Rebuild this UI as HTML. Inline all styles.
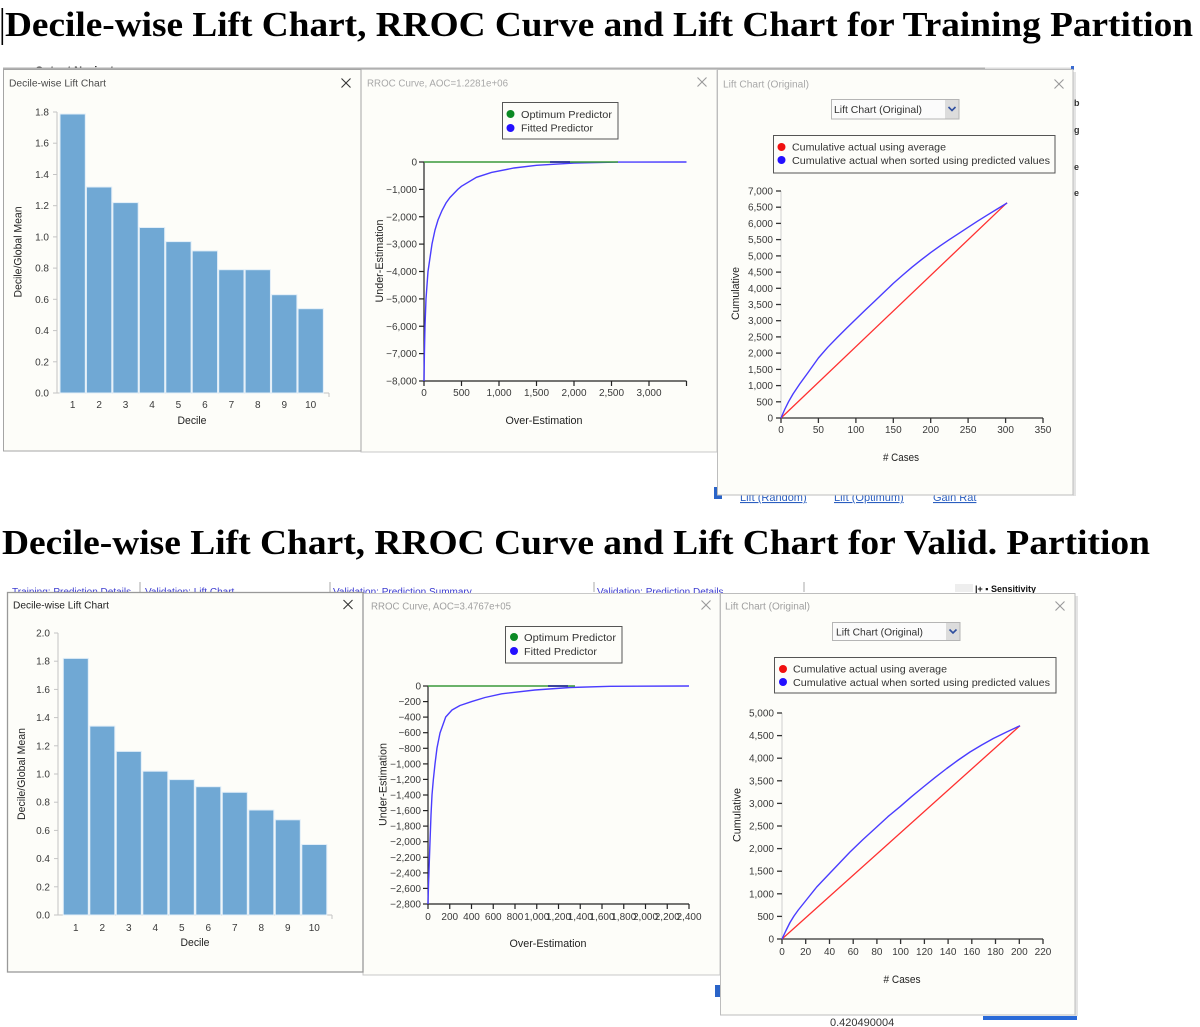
<!DOCTYPE html>
<html>
<head>
<meta charset="utf-8">
<style>
html,body{margin:0;padding:0;background:#fff;}
body{width:1200px;height:1027px;overflow:hidden;position:relative;}
svg{position:absolute;left:0;top:0;}
.ui{font-family:"Liberation Sans","DejaVu Sans",sans-serif;}
.tk{font-family:"Liberation Sans","DejaVu Sans",sans-serif;font-size:10px;fill:#3a3a3a;}
.ax{font-family:"Liberation Sans","DejaVu Sans",sans-serif;font-size:11px;fill:#222;}
.lg{font-family:"Liberation Sans","DejaVu Sans",sans-serif;font-size:10.5px;fill:#333;}
.pt{font-family:"Liberation Sans","DejaVu Sans",sans-serif;font-size:10px;}
.lnk{font-family:"Liberation Sans","DejaVu Sans",sans-serif;font-size:10px;fill:#3b3bd0;}
</style>
</head>
<body>
<svg width="1200" height="1027" viewBox="0 0 1200 1027" xmlns="http://www.w3.org/2000/svg">
<rect x="0" y="0" width="1200" height="1027" fill="#ffffff"/>

<!-- ===== Title 1 ===== -->
<rect x="1.5" y="8" width="1.6" height="37" fill="#000"/>
<text x="5" y="36" font-family="Liberation Serif, serif" font-weight="bold" font-size="35" textLength="1188" lengthAdjust="spacingAndGlyphs" fill="#000">Decile-wise Lift Chart, RROC Curve and Lift Chart for Training Partition</text>

<!-- background bits row 1 -->
<text x="35" y="74" class="ui" font-size="11" font-weight="bold" fill="#333">Output Navigator</text>
<rect x="714" y="487" width="8" height="12" fill="#2a64c8"/>
<text x="740" y="501" class="ui" font-size="11" fill="#2a5ec0" text-decoration="underline">Lift (Random)</text>
<text x="834" y="501" class="ui" font-size="11" fill="#2a5ec0" text-decoration="underline">Lift (Optimum)</text>
<text x="933" y="501" class="ui" font-size="11" fill="#2a5ec0" text-decoration="underline">Gain Rat</text>
<rect x="3" y="67.5" width="982" height="2.5" fill="#b0b0b0"/>
<rect x="985" y="67.5" width="88" height="2" fill="#dcdcdc"/>
<rect x="1071" y="66" width="3" height="4" fill="#3a6ad0"/>

<!-- ===== Row 1 Panel 2 (RROC) ===== -->
<rect x="361" y="69.5" width="356" height="382.5" fill="#fdfdf9" stroke="#c8c8c8" stroke-width="1"/>
<text x="367" y="86.5" class="pt" fill="#a8a8a8" textLength="141" lengthAdjust="spacingAndGlyphs">RROC Curve, AOC=1.2281e+06</text>
<g stroke="#999" stroke-width="1.1"><line x1="697.5" y1="77.5" x2="706.5" y2="86.5"/><line x1="706.5" y1="77.5" x2="697.5" y2="86.5"/></g>
<rect x="502.5" y="102.5" width="115.5" height="36.5" fill="#fdfdf9" stroke="#555" stroke-width="1"/>
<circle cx="510.5" cy="114" r="4" fill="#0b8a24"/>
<circle cx="510.5" cy="128" r="4" fill="#2410ff"/>
<text x="521" y="118" class="lg" textLength="91" lengthAdjust="spacingAndGlyphs">Optimum Predictor</text>
<text x="521" y="131.5" class="lg" textLength="72" lengthAdjust="spacingAndGlyphs">Fitted Predictor</text>
<g stroke="#222" stroke-width="1.2">
<line x1="424" y1="162" x2="424" y2="381.5"/>
<line x1="423.5" y1="381" x2="686.5" y2="381"/>
<line x1="419" y1="162" x2="424" y2="162"/><line x1="419" y1="189.4" x2="424" y2="189.4"/><line x1="419" y1="216.75" x2="424" y2="216.75"/><line x1="419" y1="244.1" x2="424" y2="244.1"/><line x1="419" y1="271.5" x2="424" y2="271.5"/><line x1="419" y1="298.9" x2="424" y2="298.9"/><line x1="419" y1="326.25" x2="424" y2="326.25"/><line x1="419" y1="353.6" x2="424" y2="353.6"/><line x1="419" y1="381" x2="424" y2="381"/>
<line x1="424" y1="381" x2="424" y2="386"/><line x1="461.5" y1="381" x2="461.5" y2="386"/><line x1="499" y1="381" x2="499" y2="386"/><line x1="536.5" y1="381" x2="536.5" y2="386"/><line x1="574" y1="381" x2="574" y2="386"/><line x1="611.5" y1="381" x2="611.5" y2="386"/><line x1="649" y1="381" x2="649" y2="386"/><line x1="686.5" y1="381" x2="686.5" y2="386"/>
</g>
<g class="tk" text-anchor="end">
<text x="417" y="165.5">0</text><text x="417" y="192.9">−1,000</text><text x="417" y="220.25">−2,000</text><text x="417" y="247.6">−3,000</text><text x="417" y="275">−4,000</text><text x="417" y="302.4">−5,000</text><text x="417" y="329.75">−6,000</text><text x="417" y="357.1">−7,000</text><text x="417" y="384.5">−8,000</text>
</g>
<g class="tk" text-anchor="middle">
<text x="424" y="396">0</text><text x="461.5" y="396">500</text><text x="499" y="396">1,000</text><text x="536.5" y="396">1,500</text><text x="574" y="396">2,000</text><text x="611.5" y="396">2,500</text><text x="649" y="396">3,000</text>
</g>
<text x="544" y="424" class="ax" text-anchor="middle" textLength="77" lengthAdjust="spacingAndGlyphs">Over-Estimation</text>
<text transform="translate(383,261) rotate(-90)" class="ax" text-anchor="middle" textLength="83" lengthAdjust="spacingAndGlyphs">Under-Estimation</text>
<polyline fill="none" stroke="#4a3cff" stroke-width="1.4" points="424,381 424.4,353.6 425,326 426,299 428,271.5 432,244 435,230 438,220 442,210.5 446,203 450,197.5 457.8,189.4 461.4,186.3 476.5,177.3 491.5,172.4 514,168 536.5,165.3 574,163.1 619,162.1 686.5,162"/>
<line x1="424" y1="162" x2="618" y2="162" stroke="#3a9a3a" stroke-width="1.4"/>
<line x1="550" y1="162" x2="570" y2="162" stroke="#1a1a9a" stroke-width="1.6"/>

<!-- ===== Row 1 Panel 1 (Decile) ===== -->
<rect x="3.5" y="69.5" width="357.5" height="381.5" fill="#fdfdf9" stroke="#a5a5a5" stroke-width="1"/>
<text x="9" y="86.5" class="pt" fill="#4a4a4a" textLength="97" lengthAdjust="spacingAndGlyphs">Decile-wise Lift Chart</text>
<g stroke="#333" stroke-width="1.1"><line x1="341.5" y1="78.5" x2="350.5" y2="87.5"/><line x1="350.5" y1="78.5" x2="341.5" y2="87.5"/></g>
<g stroke="#c4c4c4" stroke-width="1">
<line x1="57" y1="112" x2="57" y2="393"/>
<line x1="57" y1="393" x2="329" y2="393"/>
<line x1="329" y1="393" x2="329" y2="397"/>
<line x1="53" y1="112" x2="57" y2="112"/><line x1="53" y1="143.2" x2="57" y2="143.2"/><line x1="53" y1="174.5" x2="57" y2="174.5"/><line x1="53" y1="205.7" x2="57" y2="205.7"/><line x1="53" y1="236.9" x2="57" y2="236.9"/><line x1="53" y1="268.1" x2="57" y2="268.1"/><line x1="53" y1="299.3" x2="57" y2="299.3"/><line x1="53" y1="330.6" x2="57" y2="330.6"/><line x1="53" y1="361.8" x2="57" y2="361.8"/><line x1="53" y1="393" x2="57" y2="393"/>
</g>
<g class="tk" text-anchor="end">
<text x="49" y="396.5">0.0</text><text x="49" y="365.3">0.2</text><text x="49" y="334.1">0.4</text><text x="49" y="302.8">0.6</text><text x="49" y="271.6">0.8</text><text x="49" y="240.4">1.0</text><text x="49" y="209.2">1.2</text><text x="49" y="178">1.4</text><text x="49" y="146.7">1.6</text><text x="49" y="115.5">1.8</text>
</g>
<g fill="#70a8d4" stroke="#e2eef8" stroke-width="1">
<rect x="60" y="114" width="25.3" height="279"/>
<rect x="86.45" y="187" width="25.3" height="206"/>
<rect x="112.9" y="202.6" width="25.3" height="190.4"/>
<rect x="139.35" y="227.5" width="25.3" height="165.5"/>
<rect x="165.8" y="241.6" width="25.3" height="151.4"/>
<rect x="192.25" y="250.9" width="25.3" height="142.1"/>
<rect x="218.7" y="269.7" width="25.3" height="123.3"/>
<rect x="245.15" y="269.7" width="25.3" height="123.3"/>
<rect x="271.6" y="294.7" width="25.3" height="98.3"/>
<rect x="298.05" y="308.7" width="25.3" height="84.3"/>
</g>
<g class="tk" text-anchor="middle">
<text x="72.65" y="408">1</text><text x="99.1" y="408">2</text><text x="125.55" y="408">3</text><text x="152" y="408">4</text><text x="178.45" y="408">5</text><text x="204.9" y="408">6</text><text x="231.35" y="408">7</text><text x="257.8" y="408">8</text><text x="284.25" y="408">9</text><text x="310.7" y="408">10</text>
</g>
<text x="192" y="424" class="ax" text-anchor="middle" textLength="29" lengthAdjust="spacingAndGlyphs">Decile</text>
<text transform="translate(21.5,252) rotate(-90)" class="ax" text-anchor="middle" textLength="91" lengthAdjust="spacingAndGlyphs">Decile/Global Mean</text>

<!-- ===== Row 1 Panel 3 (Lift) ===== -->
<rect x="1073" y="72" width="3" height="424" fill="#e4e4e4"/>
<text x="1074" y="106" class="ui" font-size="9" font-weight="bold" fill="#333">b</text>
<text x="1074" y="133" class="ui" font-size="9" font-weight="bold" fill="#333">g</text>
<text x="1074" y="170" class="ui" font-size="9" font-weight="bold" fill="#333">e</text>
<text x="1074" y="196" class="ui" font-size="9" font-weight="bold" fill="#333">e</text>
<rect x="717.5" y="69.5" width="355.5" height="425.5" fill="#fdfdf9" stroke="#bdbdbd" stroke-width="1"/>
<text x="723" y="87.5" class="pt" fill="#a8a8a8" textLength="86" lengthAdjust="spacingAndGlyphs">Lift Chart (Original)</text>
<g stroke="#999" stroke-width="1.1"><line x1="1054.5" y1="79.5" x2="1063.5" y2="88.5"/><line x1="1063.5" y1="79.5" x2="1054.5" y2="88.5"/></g>
<rect x="831.5" y="99.5" width="127.5" height="19.5" fill="#fbfbfb" stroke="#b5b5b5" stroke-width="1"/>
<rect x="945" y="100" width="13.5" height="18.5" fill="#dcdcdc"/>
<polyline points="948.5,107 952,110.5 955.5,107" fill="none" stroke="#2f4f9f" stroke-width="1.6"/>
<text x="834" y="113" class="lg" fill="#222" textLength="88" lengthAdjust="spacingAndGlyphs">Lift Chart (Original)</text>
<rect x="773.5" y="135.5" width="281.5" height="37.5" fill="#fdfdf9" stroke="#555" stroke-width="1"/>
<circle cx="781.5" cy="147" r="4" fill="#f01010"/>
<circle cx="781.5" cy="160" r="4" fill="#2410ff"/>
<text x="792" y="150.5" class="lg" textLength="154" lengthAdjust="spacingAndGlyphs">Cumulative actual using average</text>
<text x="792" y="164" class="lg" textLength="258" lengthAdjust="spacingAndGlyphs">Cumulative actual when sorted using predicted values</text>
<line x1="781" y1="191" x2="781" y2="418" stroke="#cfcfcf" stroke-width="1"/>
<g stroke="#333" stroke-width="1.3">
<line x1="780.5" y1="418" x2="1043" y2="418"/>
<line x1="776" y1="418" x2="781" y2="418"/><line x1="776" y1="401.8" x2="781" y2="401.8"/><line x1="776" y1="385.6" x2="781" y2="385.6"/><line x1="776" y1="369.4" x2="781" y2="369.4"/><line x1="776" y1="353.1" x2="781" y2="353.1"/><line x1="776" y1="336.9" x2="781" y2="336.9"/><line x1="776" y1="320.7" x2="781" y2="320.7"/><line x1="776" y1="304.5" x2="781" y2="304.5"/><line x1="776" y1="288.3" x2="781" y2="288.3"/><line x1="776" y1="272.1" x2="781" y2="272.1"/><line x1="776" y1="255.9" x2="781" y2="255.9"/><line x1="776" y1="239.6" x2="781" y2="239.6"/><line x1="776" y1="223.4" x2="781" y2="223.4"/><line x1="776" y1="207.2" x2="781" y2="207.2"/><line x1="776" y1="191" x2="781" y2="191"/>
<line x1="781" y1="418" x2="781" y2="423"/><line x1="818.4" y1="418" x2="818.4" y2="423"/><line x1="855.9" y1="418" x2="855.9" y2="423"/><line x1="893.3" y1="418" x2="893.3" y2="423"/><line x1="930.7" y1="418" x2="930.7" y2="423"/><line x1="968.1" y1="418" x2="968.1" y2="423"/><line x1="1005.6" y1="418" x2="1005.6" y2="423"/><line x1="1043" y1="418" x2="1043" y2="423"/>
</g>
<g class="tk" text-anchor="end">
<text x="773" y="421.5">0</text><text x="773" y="405.3">500</text><text x="773" y="389.1">1,000</text><text x="773" y="372.9">1,500</text><text x="773" y="356.6">2,000</text><text x="773" y="340.4">2,500</text><text x="773" y="324.2">3,000</text><text x="773" y="308">3,500</text><text x="773" y="291.8">4,000</text><text x="773" y="275.6">4,500</text><text x="773" y="259.4">5,000</text><text x="773" y="243.1">5,500</text><text x="773" y="226.9">6,000</text><text x="773" y="210.7">6,500</text><text x="773" y="194.5">7,000</text>
</g>
<g class="tk" text-anchor="middle">
<text x="781" y="433">0</text><text x="818.4" y="433">50</text><text x="855.9" y="433">100</text><text x="893.3" y="433">150</text><text x="930.7" y="433">200</text><text x="968.1" y="433">250</text><text x="1005.6" y="433">300</text><text x="1043" y="433">350</text>
</g>
<text x="901" y="461" class="ax" text-anchor="middle" textLength="36" lengthAdjust="spacingAndGlyphs"># Cases</text>
<text transform="translate(739,293.5) rotate(-90)" class="ax" text-anchor="middle" textLength="53" lengthAdjust="spacingAndGlyphs">Cumulative</text>
<line x1="781" y1="418" x2="1007" y2="202.7" stroke="#ff3030" stroke-width="1.3"/>
<polyline fill="none" stroke="#4a3cff" stroke-width="1.4" stroke-linejoin="round" points="781,418 784.7,409.5 788.5,401.8 793,394 799.7,384 808,372.6 818.4,358 827.7,347.3 837.1,337.6 846.5,328.2 855.9,319.1 865.2,310.1 874.6,301.3 884,292.3 893.3,283.4 902.7,275.1 912,267.2 921.4,259.7 930.7,252.6 940,245.9 949.4,239.6 958.8,233.4 968.1,227.3 977.5,221.2 986.9,215.3 997,209.1 1007.1,203"/>

<!-- ===== Title 2 ===== -->
<text x="2" y="554" font-family="Liberation Serif, serif" font-weight="bold" font-size="35" textLength="1148" lengthAdjust="spacingAndGlyphs" fill="#000">Decile-wise Lift Chart, RROC Curve and Lift Chart for Valid. Partition</text>

<!-- background bits row 2 -->
<text x="12" y="595" class="lnk">Training: Prediction Details</text>
<line x1="140" y1="582" x2="140" y2="592" stroke="#aaa"/>
<text x="145" y="595" class="lnk">Validation: Lift Chart</text>
<line x1="330" y1="582" x2="330" y2="592" stroke="#aaa"/>
<text x="333" y="595" class="lnk">Validation: Prediction Summary</text>
<line x1="594" y1="582" x2="594" y2="592" stroke="#aaa"/>
<text x="597" y="595" class="lnk">Validation: Prediction Details</text>
<line x1="804" y1="582" x2="804" y2="592" stroke="#aaa"/>
<rect x="955" y="584" width="18" height="8" fill="#eee"/>
<text x="975" y="592" class="ui" font-size="9" font-weight="bold" fill="#111">|+ ▪ Sensitivity</text>
<text x="830" y="1026" class="ui" font-size="11" fill="#333">0.420490004</text>
<rect x="983" y="1016" width="94" height="4" fill="#2a6ad8"/>
<rect x="715" y="985" width="6" height="12" fill="#2a64c8"/>

<!-- ===== Row 2 Panel 2 (RROC) ===== -->
<rect x="363" y="593.5" width="357" height="381.5" fill="#fdfdf9" stroke="#c8c8c8" stroke-width="1"/>
<text x="371" y="609.5" class="pt" fill="#a0a0a0" textLength="140" lengthAdjust="spacingAndGlyphs">RROC Curve, AOC=3.4767e+05</text>
<g stroke="#999" stroke-width="1.1"><line x1="701.5" y1="600.5" x2="710.5" y2="609.5"/><line x1="710.5" y1="600.5" x2="701.5" y2="609.5"/></g>
<rect x="505.5" y="626.5" width="116.5" height="36.5" fill="#fdfdf9" stroke="#555" stroke-width="1"/>
<circle cx="514" cy="637" r="4" fill="#0b8a24"/>
<circle cx="514" cy="651" r="4" fill="#2410ff"/>
<text x="524" y="641" class="lg" textLength="92" lengthAdjust="spacingAndGlyphs">Optimum Predictor</text>
<text x="524" y="655" class="lg" textLength="73" lengthAdjust="spacingAndGlyphs">Fitted Predictor</text>
<g stroke="#222" stroke-width="1.2">
<line x1="428" y1="686" x2="428" y2="904.5"/>
<line x1="427.5" y1="904" x2="689" y2="904"/>
<line x1="423" y1="686" x2="428" y2="686"/><line x1="423" y1="701.6" x2="428" y2="701.6"/><line x1="423" y1="717.1" x2="428" y2="717.1"/><line x1="423" y1="732.7" x2="428" y2="732.7"/><line x1="423" y1="748.3" x2="428" y2="748.3"/><line x1="423" y1="763.9" x2="428" y2="763.9"/><line x1="423" y1="779.4" x2="428" y2="779.4"/><line x1="423" y1="795" x2="428" y2="795"/><line x1="423" y1="810.6" x2="428" y2="810.6"/><line x1="423" y1="826.1" x2="428" y2="826.1"/><line x1="423" y1="841.7" x2="428" y2="841.7"/><line x1="423" y1="857.3" x2="428" y2="857.3"/><line x1="423" y1="872.9" x2="428" y2="872.9"/><line x1="423" y1="888.4" x2="428" y2="888.4"/><line x1="423" y1="904" x2="428" y2="904"/>
<line x1="428" y1="904" x2="428" y2="909"/><line x1="449.75" y1="904" x2="449.75" y2="909"/><line x1="471.5" y1="904" x2="471.5" y2="909"/><line x1="493.25" y1="904" x2="493.25" y2="909"/><line x1="515" y1="904" x2="515" y2="909"/><line x1="536.75" y1="904" x2="536.75" y2="909"/><line x1="558.5" y1="904" x2="558.5" y2="909"/><line x1="580.25" y1="904" x2="580.25" y2="909"/><line x1="602" y1="904" x2="602" y2="909"/><line x1="623.75" y1="904" x2="623.75" y2="909"/><line x1="645.5" y1="904" x2="645.5" y2="909"/><line x1="667.25" y1="904" x2="667.25" y2="909"/><line x1="689" y1="904" x2="689" y2="909"/>
</g>
<g class="tk" text-anchor="end">
<text x="421" y="689.5">0</text><text x="421" y="705.1">−200</text><text x="421" y="720.6">−400</text><text x="421" y="736.2">−600</text><text x="421" y="751.8">−800</text><text x="421" y="767.4">−1,000</text><text x="421" y="782.9">−1,200</text><text x="421" y="798.5">−1,400</text><text x="421" y="814.1">−1,600</text><text x="421" y="829.6">−1,800</text><text x="421" y="845.2">−2,000</text><text x="421" y="860.8">−2,200</text><text x="421" y="876.4">−2,400</text><text x="421" y="891.9">−2,600</text><text x="421" y="907.5">−2,800</text>
</g>
<g class="tk" text-anchor="middle">
<text x="428" y="920">0</text><text x="449.75" y="920">200</text><text x="471.5" y="920">400</text><text x="493.25" y="920">600</text><text x="515" y="920">800</text><text x="536.75" y="920">1,000</text><text x="558.5" y="920">1,200</text><text x="580.25" y="920">1,400</text><text x="602" y="920">1,600</text><text x="623.75" y="920">1,800</text><text x="645.5" y="920">2,000</text><text x="667.25" y="920">2,200</text><text x="689" y="920">2,400</text>
</g>
<text x="548" y="947" class="ax" text-anchor="middle" textLength="77" lengthAdjust="spacingAndGlyphs">Over-Estimation</text>
<text transform="translate(386.5,784.5) rotate(-90)" class="ax" text-anchor="middle" textLength="83" lengthAdjust="spacingAndGlyphs">Under-Estimation</text>
<polyline fill="none" stroke="#4a3cff" stroke-width="1.4" stroke-linejoin="round" points="428,904 428.5,885 429.2,865 430,842 431,815 432,795 433.3,780 435,764 437,748 440,733 445.7,717 452,710 460,705.5 471.7,701.6 485,697.5 501.7,693.8 535,690 570,687.5 610,686.3 689,686"/>
<line x1="428" y1="686" x2="575" y2="686" stroke="#3a9a3a" stroke-width="1.4"/>
<line x1="548" y1="686" x2="568" y2="686" stroke="#1a1a9a" stroke-width="1.6"/>

<!-- ===== Row 2 Panel 1 (Decile) ===== -->
<rect x="7.5" y="592.5" width="355.5" height="379.5" fill="#fdfdf9" stroke="#999" stroke-width="1.3"/>
<text x="13" y="608.5" class="pt" fill="#222" textLength="96" lengthAdjust="spacingAndGlyphs">Decile-wise Lift Chart</text>
<g stroke="#333" stroke-width="1.1"><line x1="343.5" y1="600" x2="352.5" y2="609"/><line x1="352.5" y1="600" x2="343.5" y2="609"/></g>
<g stroke="#c4c4c4" stroke-width="1">
<line x1="58" y1="633" x2="58" y2="915"/>
<line x1="58" y1="915" x2="332" y2="915"/>
<line x1="332" y1="915" x2="332" y2="919"/>
<line x1="54" y1="633" x2="58" y2="633"/><line x1="54" y1="661.2" x2="58" y2="661.2"/><line x1="54" y1="689.4" x2="58" y2="689.4"/><line x1="54" y1="717.6" x2="58" y2="717.6"/><line x1="54" y1="745.8" x2="58" y2="745.8"/><line x1="54" y1="774" x2="58" y2="774"/><line x1="54" y1="802.2" x2="58" y2="802.2"/><line x1="54" y1="830.4" x2="58" y2="830.4"/><line x1="54" y1="858.6" x2="58" y2="858.6"/><line x1="54" y1="886.8" x2="58" y2="886.8"/><line x1="54" y1="915" x2="58" y2="915"/>
</g>
<g class="tk" text-anchor="end">
<text x="50" y="918.5">0.0</text><text x="50" y="890.3">0.2</text><text x="50" y="862.1">0.4</text><text x="50" y="833.9">0.6</text><text x="50" y="805.7">0.8</text><text x="50" y="777.5">1.0</text><text x="50" y="749.3">1.2</text><text x="50" y="721.1">1.4</text><text x="50" y="692.9">1.6</text><text x="50" y="664.7">1.8</text><text x="50" y="636.5">2.0</text>
</g>
<g fill="#70a8d4" stroke="#e2eef8" stroke-width="1">
<rect x="63.3" y="658.4" width="25" height="256.6"/>
<rect x="89.8" y="726.1" width="25" height="188.9"/>
<rect x="116.3" y="751.4" width="25" height="163.6"/>
<rect x="142.8" y="771.2" width="25" height="143.8"/>
<rect x="169.3" y="779.6" width="25" height="135.4"/>
<rect x="195.8" y="786.7" width="25" height="128.3"/>
<rect x="222.3" y="792.3" width="25" height="122.7"/>
<rect x="248.8" y="810" width="25" height="105"/>
<rect x="275.3" y="819.8" width="25" height="95.2"/>
<rect x="301.8" y="844.5" width="25" height="70.5"/>
</g>
<g class="tk" text-anchor="middle">
<text x="75.8" y="931">1</text><text x="102.3" y="931">2</text><text x="128.8" y="931">3</text><text x="155.3" y="931">4</text><text x="181.8" y="931">5</text><text x="208.3" y="931">6</text><text x="234.8" y="931">7</text><text x="261.3" y="931">8</text><text x="287.8" y="931">9</text><text x="314.3" y="931">10</text>
</g>
<text x="195" y="946" class="ax" text-anchor="middle" textLength="29" lengthAdjust="spacingAndGlyphs">Decile</text>
<text transform="translate(25,774) rotate(-90)" class="ax" text-anchor="middle" textLength="92" lengthAdjust="spacingAndGlyphs">Decile/Global Mean</text>

<!-- ===== Row 2 Panel 3 (Lift) ===== -->
<rect x="1075" y="596" width="3" height="420" fill="#e4e4e4"/>
<rect x="720.5" y="593.5" width="354.5" height="421.5" fill="#fdfdf9" stroke="#bdbdbd" stroke-width="1"/>
<text x="725" y="609.5" class="pt" fill="#a0a0a0" textLength="85" lengthAdjust="spacingAndGlyphs">Lift Chart (Original)</text>
<g stroke="#999" stroke-width="1.1"><line x1="1055.5" y1="601.5" x2="1064.5" y2="610.5"/><line x1="1064.5" y1="601.5" x2="1055.5" y2="610.5"/></g>
<rect x="832.5" y="622.5" width="127.5" height="18" fill="#fbfbfb" stroke="#b5b5b5" stroke-width="1"/>
<rect x="946" y="623" width="13.5" height="17" fill="#dcdcdc"/>
<polyline points="949.5,629.5 953,633 956.5,629.5" fill="none" stroke="#2f4f9f" stroke-width="1.6"/>
<text x="836" y="635.5" class="lg" fill="#222" textLength="87" lengthAdjust="spacingAndGlyphs">Lift Chart (Original)</text>
<rect x="774.5" y="657.5" width="281.5" height="35.5" fill="#fdfdf9" stroke="#555" stroke-width="1"/>
<circle cx="783" cy="669" r="4" fill="#f01010"/>
<circle cx="783" cy="682" r="4" fill="#2410ff"/>
<text x="793" y="672.5" class="lg" textLength="154" lengthAdjust="spacingAndGlyphs">Cumulative actual using average</text>
<text x="793" y="686" class="lg" textLength="257" lengthAdjust="spacingAndGlyphs">Cumulative actual when sorted using predicted values</text>
<line x1="782" y1="713" x2="782" y2="939" stroke="#cfcfcf" stroke-width="1"/>
<g stroke="#333" stroke-width="1.3">
<line x1="781.5" y1="939" x2="1043" y2="939"/>
<line x1="777" y1="939" x2="782" y2="939"/><line x1="777" y1="916.4" x2="782" y2="916.4"/><line x1="777" y1="893.8" x2="782" y2="893.8"/><line x1="777" y1="871.2" x2="782" y2="871.2"/><line x1="777" y1="848.6" x2="782" y2="848.6"/><line x1="777" y1="826" x2="782" y2="826"/><line x1="777" y1="803.4" x2="782" y2="803.4"/><line x1="777" y1="780.8" x2="782" y2="780.8"/><line x1="777" y1="758.2" x2="782" y2="758.2"/><line x1="777" y1="735.6" x2="782" y2="735.6"/><line x1="777" y1="713" x2="782" y2="713"/>
<line x1="782" y1="939" x2="782" y2="944"/><line x1="805.7" y1="939" x2="805.7" y2="944"/><line x1="829.5" y1="939" x2="829.5" y2="944"/><line x1="853.2" y1="939" x2="853.2" y2="944"/><line x1="876.9" y1="939" x2="876.9" y2="944"/><line x1="900.6" y1="939" x2="900.6" y2="944"/><line x1="924.4" y1="939" x2="924.4" y2="944"/><line x1="948.1" y1="939" x2="948.1" y2="944"/><line x1="971.8" y1="939" x2="971.8" y2="944"/><line x1="995.5" y1="939" x2="995.5" y2="944"/><line x1="1019.3" y1="939" x2="1019.3" y2="944"/><line x1="1043" y1="939" x2="1043" y2="944"/>
</g>
<g class="tk" text-anchor="end">
<text x="774" y="942.5">0</text><text x="774" y="919.9">500</text><text x="774" y="897.3">1,000</text><text x="774" y="874.7">1,500</text><text x="774" y="852.1">2,000</text><text x="774" y="829.5">2,500</text><text x="774" y="806.9">3,000</text><text x="774" y="784.3">3,500</text><text x="774" y="761.7">4,000</text><text x="774" y="739.1">4,500</text><text x="774" y="716.5">5,000</text>
</g>
<g class="tk" text-anchor="middle">
<text x="782" y="955">0</text><text x="805.7" y="955">20</text><text x="829.5" y="955">40</text><text x="853.2" y="955">60</text><text x="876.9" y="955">80</text><text x="900.6" y="955">100</text><text x="924.4" y="955">120</text><text x="948.1" y="955">140</text><text x="971.8" y="955">160</text><text x="995.5" y="955">180</text><text x="1019.3" y="955">200</text><text x="1043" y="955">220</text>
</g>
<text x="902" y="983" class="ax" text-anchor="middle" textLength="37" lengthAdjust="spacingAndGlyphs"># Cases</text>
<text transform="translate(740.5,815) rotate(-90)" class="ax" text-anchor="middle" textLength="54" lengthAdjust="spacingAndGlyphs">Cumulative</text>
<line x1="782" y1="939" x2="1020" y2="725.7" stroke="#ff3030" stroke-width="1.3"/>
<polyline fill="none" stroke="#4a3cff" stroke-width="1.4" stroke-linejoin="round" points="782,939 786,930.5 790,922.5 794,916 798.3,910 806.7,899.5 816.7,887 830,873 840,862.5 850,852 863,839.5 876.7,827 888,816.6 900,806.7 911.5,796.7 923.3,787 935,777.6 946.7,768.5 958.3,760 970,752 981.7,745 993.3,738.5 1006.6,732 1020,725.7"/>
</svg>
</body>
</html>
